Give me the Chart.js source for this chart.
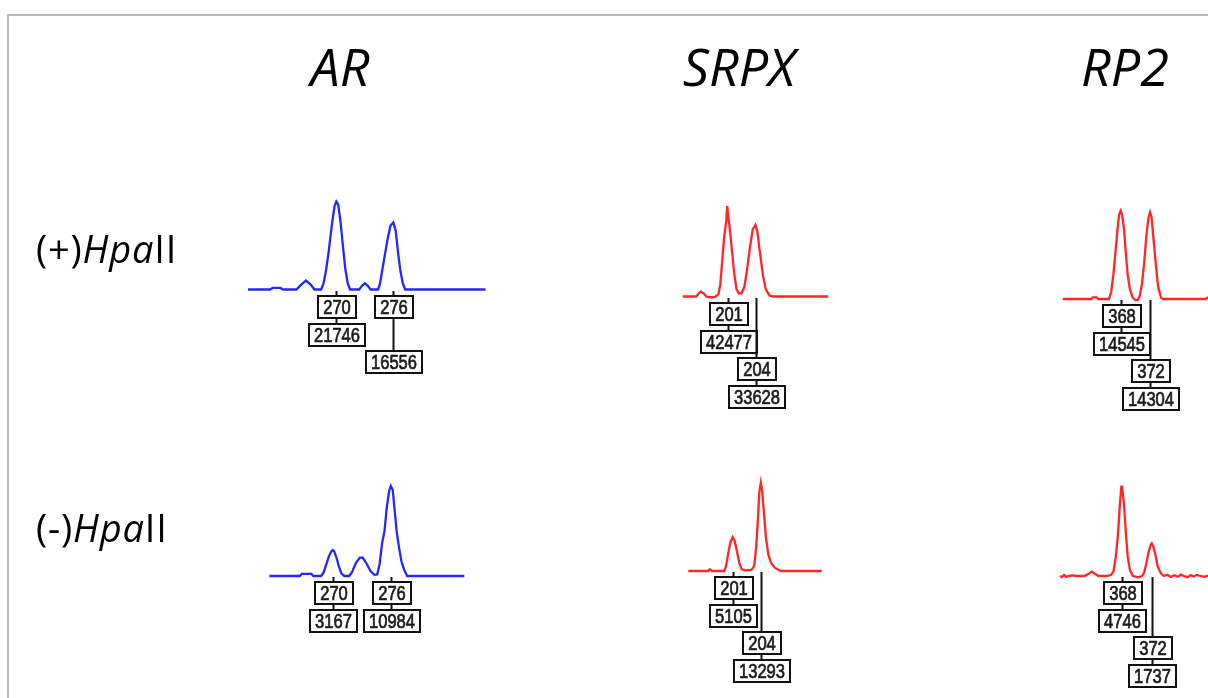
<!DOCTYPE html>
<html>
<head>
<meta charset="utf-8">
<script src="https://cdn.jsdelivr.net/npm/chart.js@4/dist/chart.umd.min.js"></script>
<style>
  html, body { margin: 0; padding: 0; background: #fff; }
  body { width: 1208px; height: 698px; position: relative; overflow: hidden; }
  .frame { position: absolute; left: 7px; top: 14px; right: -10px; bottom: -10px;
           border-top: 2px solid #b8b8b8; border-left: 2px solid #b8b8b8; }
  canvas { position: absolute; left: 0; top: 0; }
  .gene { position: absolute; top: 40px; transform: translateX(-50%);
          font: italic 52px "Open Sans", sans-serif; line-height: 52px; color: #000; white-space: nowrap; }
  .treat { position: absolute; left: 36px; font: 38px "Open Sans", sans-serif; line-height: 38px;
           letter-spacing: 0.8px; color: #000; white-space: nowrap; }
</style>
</head>
<body>
<div class="frame"></div>
<script>
// Loci, fragment sizes (bp) and peak heights (RFU) per treatment
const genes = ['AR', 'SRPX', 'RP2'];
const treatments = ['(+)', '(-)'];
const enzyme = ['Hpa', 'II'];
const peakSizes = [[270, 276], [201, 204], [368, 372]];
const heightsPlus = [[21746, 16556], [42477, 33628], [14545, 14304]];
const heightsMinus = [[3167, 10984], [5105, 13293], [4746, 1737]];

// Electropherogram traces: [size (bp), signal (RFU)]
const traceArPlus = [
  [260.7, 0], [263.0, 0], [263.3, 400], [264.1, 400], [264.4, 0], [265.8, 0], [266.3, 1200],
  [266.8, 2200], [267.3, 1200], [267.7, 0], [268.4, 0], [268.65, 1500], [268.9, 4500],
  [269.2, 9500], [269.5, 15500], [269.8, 20500], [270.0, 21746], [270.2, 21000], [270.45, 16500],
  [270.7, 10500], [270.95, 5000], [271.2, 1500], [271.45, 0], [272.4, 0], [272.7, 900],
  [273.0, 1550], [273.3, 900], [273.6, 0], [274.4, 0], [274.6, 1500], [274.85, 5000],
  [275.1, 8500], [275.4, 12500], [275.7, 15800], [276.0, 16556], [276.25, 14500], [276.5, 9000],
  [276.75, 4500], [277.0, 1500], [277.25, 0], [285.7, 0]
];
const traceSrpxPlus = [
  [196.15, 0], [197.6, 0], [197.9, 1500], [198.1, 2300], [198.4, 1500], [198.7, 0], [199.0, -350],
  [199.4, -350], [199.7, 0], [200.0, 1000], [200.2, 5500], [200.4, 16000], [200.6, 27000],
  [200.85, 35500], [200.95, 42477], [201.0, 42477], [201.05, 38000], [201.2, 33000],
  [201.45, 22000], [201.7, 11000], [201.95, 3500], [202.2, 1500], [202.5, 1500], [202.8, 4500],
  [203.1, 13000], [203.4, 23000], [203.7, 31500], [204.0, 33628], [204.2, 30500], [204.5, 20000],
  [204.8, 10000], [205.1, 3500], [205.5, 500], [205.9, 0], [211.85, 0]
];
const traceRp2Plus = [
  [360.09, 0], [364.0, 0], [364.2, 280], [364.7, 280], [364.9, 0], [366.4, 0], [366.7, 1200],
  [367.0, 4000], [367.3, 8000], [367.6, 12000], [367.8, 14000], [368.0, 14545], [368.2, 13800],
  [368.45, 11500], [368.7, 7500], [368.95, 4000], [369.25, 1600], [369.6, 300], [370.0, -200],
  [370.3, -200], [370.6, 500], [370.9, 2500], [371.2, 6000], [371.5, 10500], [371.8, 13500],
  [372.0, 14304], [372.2, 13500], [372.5, 9500], [372.8, 5500], [373.1, 2000], [373.5, 200],
  [373.8, 0], [379.6, 0], [379.9, 300]
];
const traceArMinus = [
  [263.44, 0], [266.6, 0], [266.8, 250], [267.8, 250], [268.0, 0], [268.8, 0], [269.05, 400],
  [269.3, 1300], [269.6, 2400], [269.85, 3000], [270.0, 3167], [270.15, 3000], [270.4, 2200],
  [270.65, 1100], [270.9, 300], [271.2, 0], [271.7, 0], [272.0, 500], [272.4, 1600],
  [272.8, 2250], [273.1, 2250], [273.5, 1500], [273.9, 600], [274.3, 150], [274.6, 200],
  [274.85, 1500], [275.1, 4000], [275.35, 5500], [275.6, 8500], [275.85, 10500], [276.0, 10984],
  [276.2, 10500], [276.4, 8000], [276.6, 5500], [276.85, 3500], [277.1, 1800], [277.4, 700],
  [277.7, 0], [283.6, 0]
];
const traceSrpxMinus = [
  [196.26, 0], [198.4, 0], [198.55, 250], [198.8, 0], [200.1, 0], [200.3, 800], [200.5, 2500],
  [200.75, 4300], [201.0, 5105], [201.2, 4600], [201.45, 3000], [201.7, 1200], [201.95, 300],
  [202.3, 100], [203.0, 150], [203.3, 800], [203.5, 3500], [203.7, 8000], [203.85, 12000],
  [204.0, 13293], [204.15, 12000], [204.35, 8500], [204.55, 5000], [204.8, 2500], [205.1, 1200],
  [205.5, 500], [205.9, 150], [206.2, 0], [210.5, 0]
];
const traceRp2Minus = [
  [359.77, 0], [360.0, -60], [360.3, 50], [360.6, -40], [361.0, 0], [361.5, 30], [362.0, 0],
  [363.0, 0], [363.6, 120], [364.0, 230], [364.4, 120], [364.9, 0], [366.0, 0], [366.6, 60],
  [366.9, 250], [367.2, 1000], [367.5, 2200], [367.75, 3800], [367.95, 4746], [368.05, 4746],
  [368.3, 3800], [368.55, 2300], [368.8, 1000], [369.1, 300], [369.5, 0], [370.2, -70],
  [370.7, 0], [371.0, 200], [371.3, 700], [371.6, 1300], [371.85, 1650], [372.0, 1737],
  [372.2, 1600], [372.5, 1100], [372.8, 500], [373.2, 150], [373.6, 0], [374.1, 60],
  [374.5, -50], [375.0, 40], [375.5, -40], [375.9, 70], [376.3, 0], [376.8, -60], [377.2, 50],
  [377.6, -30], [378.0, 60], [378.5, 0], [379.0, -40], [379.5, 20]
];

const W = 1208, H = 698;
const BLUE = '#2626ff', RED = '#ff2626';

// Where each panel's plot area sits on the page, and its size window (bp)
const panels = [
  { trace: traceArPlus,    gene: 0, heights: heightsPlus,  color: BLUE, left: 248,    right: 485.5, top: 201.5, base: 289.5, min: 260.7,  max: 285.7 },
  { trace: traceSrpxPlus,  gene: 1, heights: heightsPlus,  color: RED,  left: 682.7,  right: 828.3, top: 206,   base: 296.5, min: 196.15, max: 211.85 },
  { trace: traceRp2Plus,   gene: 2, heights: heightsPlus,  color: RED,  left: 1062.7, right: 1208,  top: 210.7, base: 299,   min: 360.09, max: 379.9 },
  { trace: traceArMinus,   gene: 0, heights: heightsMinus, color: BLUE, left: 269.3,  right: 464.3, top: 486,   base: 576,   min: 263.44, max: 283.6 },
  { trace: traceSrpxMinus, gene: 1, heights: heightsMinus, color: RED,  left: 688.3,  right: 821.7, top: 482.7, base: 571,   min: 196.26, max: 210.5 },
  { trace: traceRp2Minus,  gene: 2, heights: heightsMinus, color: RED,  left: 1060,   right: 1208,  top: 486.7, base: 576,   min: 359.77, max: 379.5 }
];

const LABEL_FONT = '20px "Liberation Sans Narrow", "Liberation Sans", Arial, sans-serif';
const DIGIT_W = 9.2;
const BOX_H = 22, ROW_STEP = 27.5, GAP = 4;

// Size / height call-out boxes hung below each peak, stacked to avoid overlaps
const peakLabels = {
  id: 'peakLabels',
  afterDatasetsDraw(chart, args, opts) {
    const { ctx } = chart;
    const xs = chart.scales.x, ys = chart.scales.y;
    const base = Math.round(ys.getPixelForValue(0));
    ctx.save();
    ctx.font = LABEL_FONT;
    const sx = DIGIT_W / ctx.measureText('0').width;
    const boxW = t => Math.round(ctx.measureText(t).width * sx + 10);
    const rowTop = k => Math.round(base + 6 + k * ROW_STEP);
    const placed = [];
    const free = (k, l, r) => !placed.some(b => b.k === k && l < b.r + GAP && r > b.l - GAP);
    const seg = (x, y1, y2) => { ctx.beginPath(); ctx.moveTo(x, y1); ctx.lineTo(x, y2); ctx.stroke(); };
    const box = (t, cx, k, w) => {
      const l = Math.round(cx - w / 2), top = rowTop(k);
      ctx.fillStyle = '#fff';
      ctx.fillRect(l, top, w, BOX_H);
      ctx.lineWidth = 2; ctx.strokeStyle = '#111';
      ctx.strokeRect(l, top, w, BOX_H);
      ctx.save();
      ctx.translate(l + w / 2, top + BOX_H / 2 + 1);
      ctx.scale(sx, 1);
      ctx.fillStyle = '#1a1a1a'; ctx.strokeStyle = '#1a1a1a'; ctx.lineWidth = 0.7;
      ctx.textAlign = 'center'; ctx.textBaseline = 'middle';
      ctx.fillText(t, 0, 0);
      ctx.strokeText(t, 0, 0);
      ctx.restore();
    };
    opts.sizes.forEach((s, i) => {
      const px = Math.round(xs.getPixelForValue(s)) + 0.5;
      const t1 = String(s), t2 = String(opts.values[i]);
      const w1 = boxW(t1), w2 = boxW(t2);
      const l1 = px - w1 / 2, l2 = px - w2 / 2;
      let k1 = 0; while (!free(k1, l1, l1 + w1)) k1++;
      let k2 = k1 + 1; while (!free(k2, l2, l2 + w2)) k2++;
      placed.push({ k: k1, l: l1, r: l1 + w1 }, { k: k2, l: l2, r: l2 + w2 });
      ctx.lineWidth = 2; ctx.strokeStyle = '#111';
      seg(px, base + 1, rowTop(k1));
      seg(px, rowTop(k1) + BOX_H, rowTop(k2));
      box(t1, px, k1, w1);
      box(t2, px, k2, w2);
    });
    ctx.restore();
  }
};

panels.forEach(p => {
  const cv = document.createElement('canvas');
  cv.width = W; cv.height = H;
  cv.style.width = W + 'px'; cv.style.height = H + 'px';
  document.body.appendChild(cv);
  const values = p.heights[p.gene];
  new Chart(cv, {
    type: 'line',
    data: {
      datasets: [{
        data: p.trace.map(([x, y]) => ({ x, y })),
        borderColor: p.color, borderWidth: 2.3, pointRadius: 0, tension: 0, clip: false, fill: false
      }]
    },
    options: {
      responsive: false, animation: false, events: [], devicePixelRatio: 1,
      layout: { padding: { left: p.left, right: W - p.right, top: p.top, bottom: H - p.base } },
      scales: {
        x: { type: 'linear', min: p.min, max: p.max, display: false },
        y: { min: 0, max: Math.max(...values), display: false }
      },
      plugins: {
        legend: { display: false }, tooltip: { enabled: false },
        peakLabels: { sizes: peakSizes[p.gene], values }
      }
    },
    plugins: [peakLabels]
  });
});

// Column headings (loci) and row headings (digest condition)
const geneCenters = [340, 739, 1125];
genes.forEach((g, i) => {
  const d = document.createElement('div');
  d.className = 'gene'; d.textContent = g; d.style.left = geneCenters[i] + 'px';
  document.body.appendChild(d);
});
const rowTops = [229, 508];
treatments.forEach((t, i) => {
  const d = document.createElement('div');
  d.className = 'treat'; d.style.top = rowTops[i] + 'px';
  d.appendChild(document.createTextNode(t));
  const it = document.createElement('i'); it.textContent = enzyme[0];
  d.appendChild(it);
  d.appendChild(document.createTextNode(enzyme[1]));
  document.body.appendChild(d);
});
</script>
</body>
</html>
